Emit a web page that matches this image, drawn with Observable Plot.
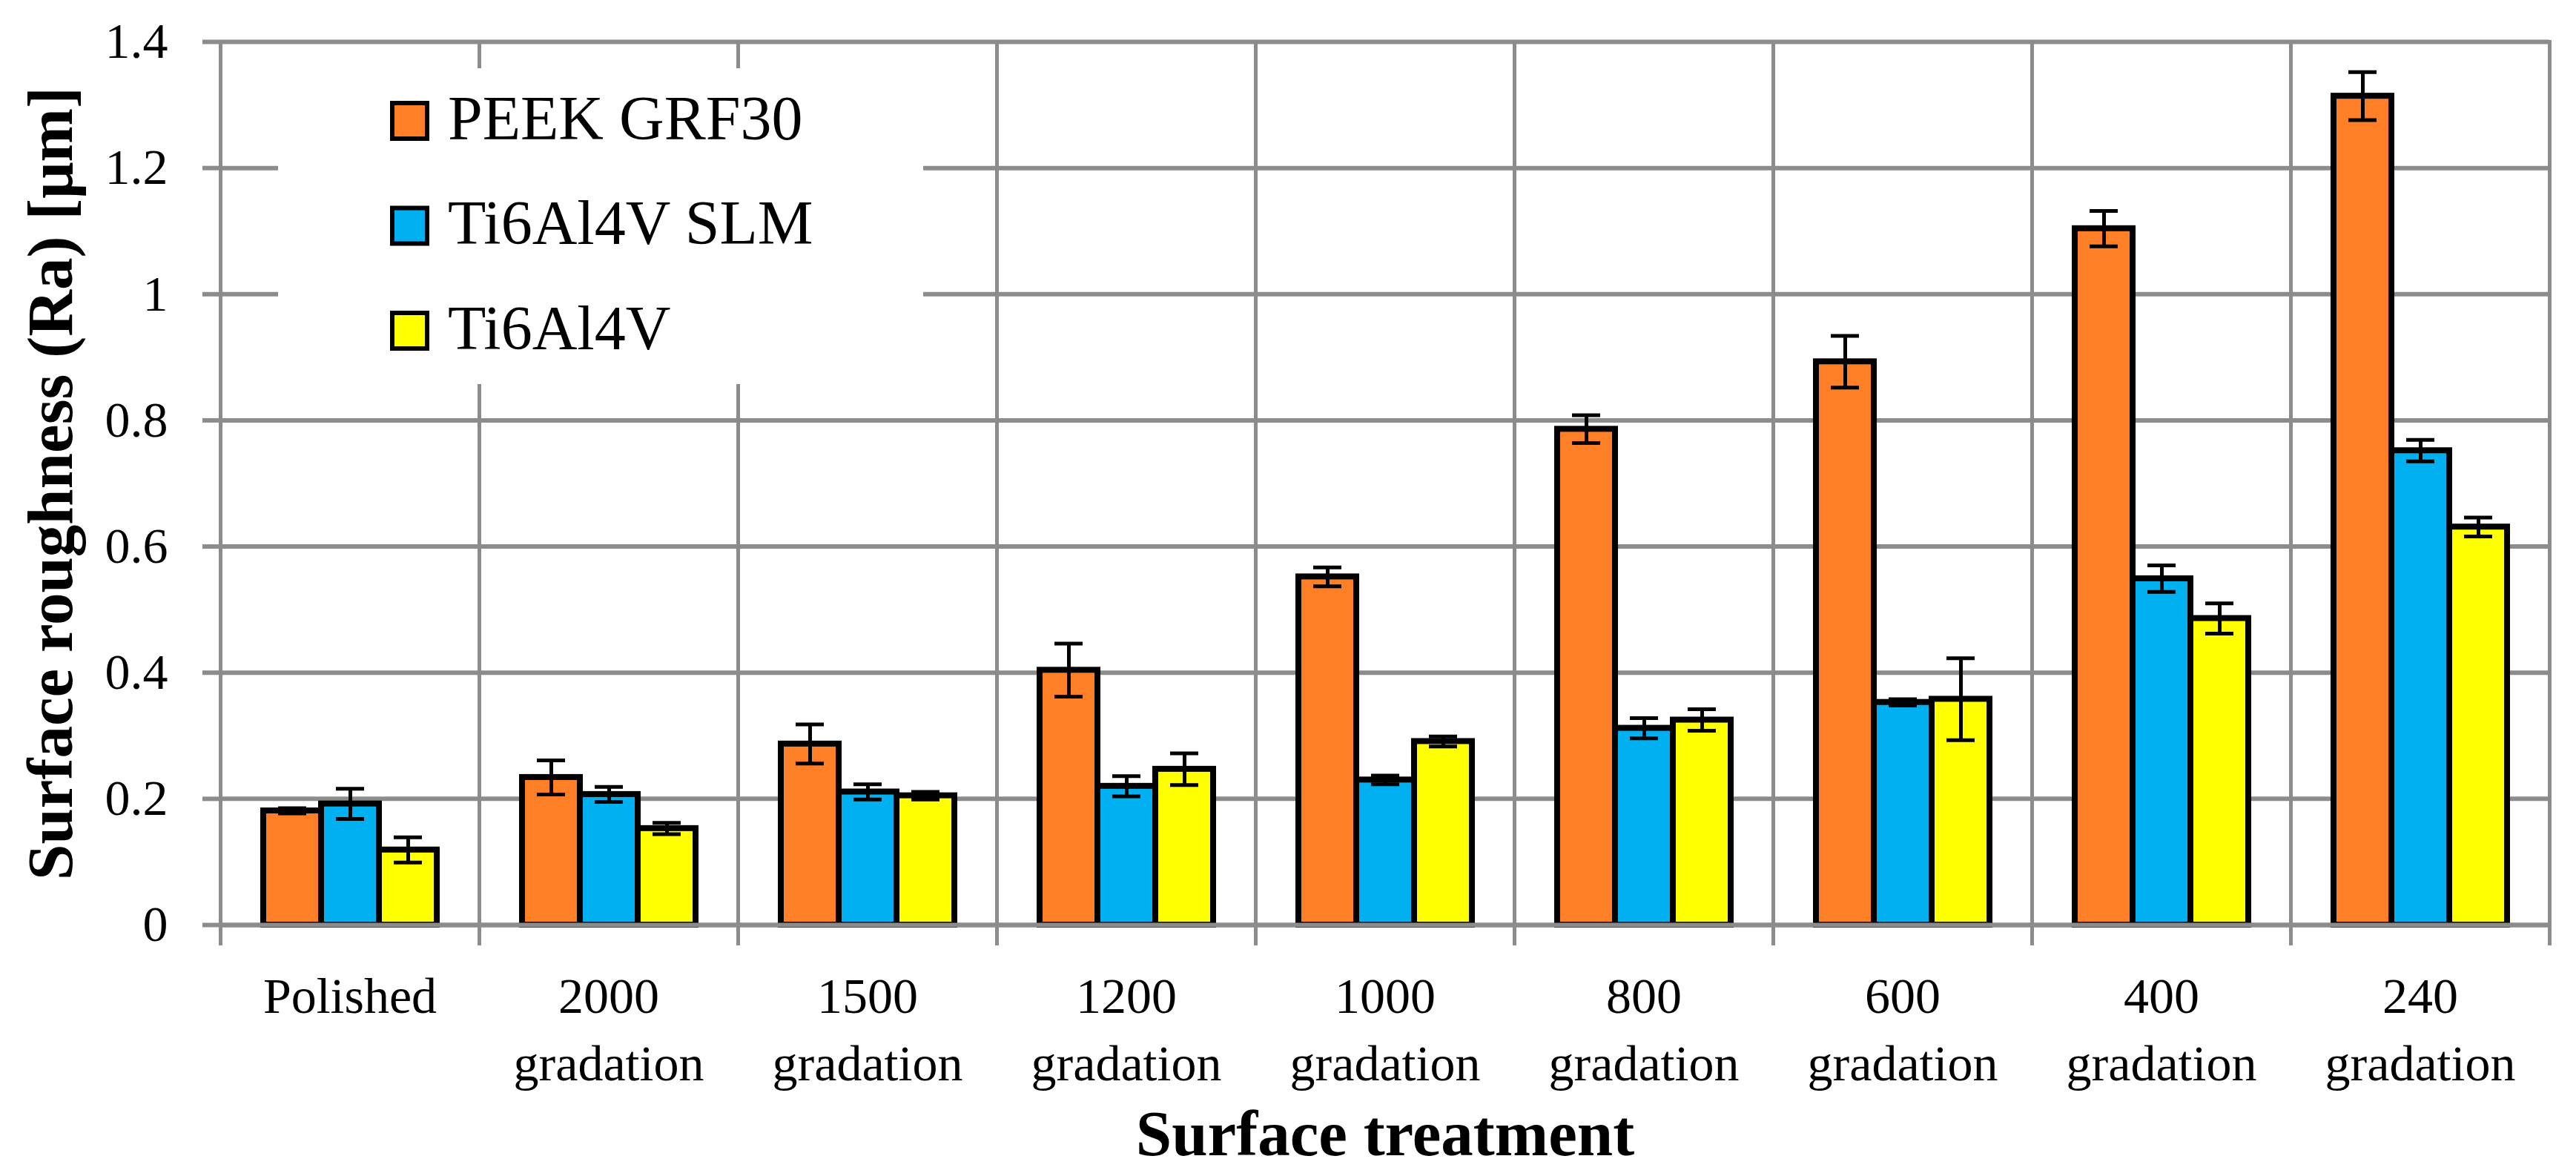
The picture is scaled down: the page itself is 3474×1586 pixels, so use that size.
<!DOCTYPE html>
<html>
<head>
<meta charset="utf-8">
<script src="https://cdn.jsdelivr.net/npm/d3@7"></script>
<script src="https://cdn.jsdelivr.net/npm/@observablehq/plot@0.6"></script>
<style>
  html, body { margin: 0; padding: 0; background: #fff; }
  #chart svg { display: block; }
  g[aria-label="y-axis label"] text, g[aria-label="fx-axis label"] text {
    font-size: 87px; font-weight: bold;
  }
</style>
</head>
<body>
<div id="chart"></div>
<script>
// ---- data ----
const treatments = ["Polished", "2000", "1500", "1200", "1000", "800", "600", "400", "240"];
const catLabels = ["Polished", "2000\ngradation", "1500\ngradation", "1200\ngradation", "1000\ngradation",
                   "800\ngradation", "600\ngradation", "400\ngradation", "240\ngradation"];
const series = ["PEEK GRF30", "Ti6Al4V SLM", "Ti6Al4V"];
const colors = ["#FF7F27", "#00B0F0", "#FFFF00"];

const peekValues = [0.181, 0.234, 0.287, 0.404, 0.552, 0.786, 0.893, 1.104, 1.314];
const peekErrors = [0.004, 0.027, 0.031, 0.042, 0.015, 0.022, 0.041, 0.028, 0.038];
const slmValues  = [0.192, 0.207, 0.211, 0.220, 0.230, 0.312, 0.353, 0.549, 0.752];
const slmErrors  = [0.024, 0.012, 0.012, 0.016, 0.007, 0.016, 0.005, 0.021, 0.017];
const tiValues   = [0.119, 0.153, 0.205, 0.247, 0.291, 0.325, 0.358, 0.486, 0.631];
const tiErrors   = [0.020, 0.009, 0.006, 0.025, 0.008, 0.017, 0.065, 0.024, 0.015];

const yTicks = [0, 0.2, 0.4, 0.6, 0.8, 1, 1.2, 1.4];
const yTitle = "Surface roughness (Ra) [μm]";
const xTitle = "Surface treatment";

// ---- table ----
const valueSets = [peekValues, slmValues, tiValues];
const errorSets = [peekErrors, slmErrors, tiErrors];
const rows = [];
catLabels.forEach((label, i) => {
  series.forEach((s, j) => {
    const v = valueSets[j][i], e = errorSets[j][i];
    rows.push({label, series: s, value: v, lo: v - e, hi: v + e});
  });
});

const gray = "#8C8C8C";
const font = "'Liberation Serif', 'Times New Roman', serif";

const chart = Plot.plot({
  width: 3474,
  height: 1586,
  marginLeft: 293,
  marginRight: 33,
  marginTop: 56,
  marginBottom: 339,
  style: {fontFamily: font, fontSize: "68px", color: "black", background: "white", overflow: "visible"},
  fx: {domain: catLabels, padding: 0, label: null},
  x: {domain: series, paddingInner: 0, paddingOuter: 0.735, axis: null},
  y: {domain: [0, 1.4], label: null},
  color: {domain: series, range: colors},
  marks: [
    Plot.gridY(yTicks, {stroke: gray, strokeOpacity: 1, strokeWidth: 6}),
    Plot.frame({anchor: "left", insetBottom: -25, stroke: gray, strokeWidth: 5}),
    Plot.frame({anchor: "right", insetBottom: -25, stroke: gray, strokeWidth: 5}),
    Plot.barY(rows, {fx: "label", x: "series", y: "value", fill: "series", stroke: "black", strokeWidth: 8}),
    Plot.ruleY([0], {stroke: gray, strokeWidth: 6}),
    Plot.ruleX(rows, {fx: "label", x: "series", y1: "lo", y2: "hi", stroke: "black", strokeWidth: 5}),
    Plot.tickY(rows, {fx: "label", x: "series", y: "lo", stroke: "black", strokeWidth: 5, insetLeft: 20, insetRight: 20}),
    Plot.tickY(rows, {fx: "label", x: "series", y: "hi", stroke: "black", strokeWidth: 5, insetLeft: 20, insetRight: 20}),
    Plot.axisY(yTicks, {
      tickSize: 24, tickPadding: 47, stroke: gray, strokeWidth: 6, fill: "black",
      tickFormat: d => String(d),
      label: yTitle, labelArrow: "none", labelAnchor: "center", labelOffset: 262
    }),
    Plot.axisFx({
      anchor: "bottom", tickSize: 0, tickPadding: 53, lineHeight: 1.35, fill: "black",
      label: xTitle, labelArrow: "none", labelAnchor: "center", labelOffset: 310
    })
  ]
});

document.getElementById("chart").appendChild(chart);

// ---- legend (white box over the grid, as in the original) ----
const svg = d3.select(chart);
const lg = svg.append("g").attr("aria-label", "legend").attr("text-anchor", "start");
lg.append("rect").attr("x", 375).attr("y", 92).attr("width", 870).attr("height", 426).attr("fill", "white");
series.forEach((s, i) => {
  const top = 139 + i * 141.5;
  lg.append("rect")
    .attr("x", 529).attr("y", top).attr("width", 47).attr("height", 48)
    .attr("fill", colors[i]).attr("stroke", "black").attr("stroke-width", 6);
  lg.append("text")
    .attr("x", 604).attr("y", top + 48.5)
    .attr("text-anchor", "start")
    .attr("font-family", font).attr("font-size", 84).attr("fill", "black")
    .text(s);
});
</script>
</body>
</html>
